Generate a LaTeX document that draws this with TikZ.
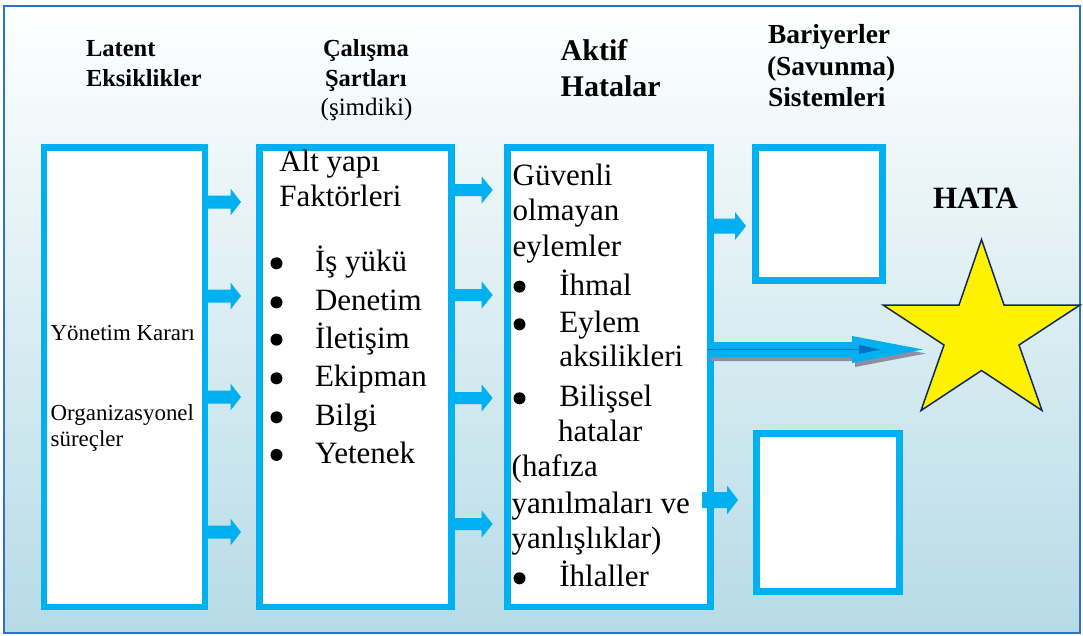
\documentclass[tikz,border=0pt]{standalone}
\usepackage{fontspec}
\setmainfont{Liberation Serif}
\usetikzlibrary{calc}

\definecolor{boxcyan}{HTML}{00B0F0}
\definecolor{frameblue}{HTML}{2E74C4}
\definecolor{bgbottom}{HTML}{B6DBE6}
\definecolor{bgmid}{HTML}{DCEDF3}
\definecolor{starline}{HTML}{13295C}
\definecolor{shadowgray}{HTML}{8C8EA6}
\definecolor{innerblue}{HTML}{0070C0}

% horizontal block arrow: #1 start, #2 tip, #3 shaft half-height,
% #4 head half-height, #5 head length, #6 fill style
\newcommand\blockarrow[6]{%
  \fill[#6] let \p1=(#1), \p2=(#2) in
    (\x1,\y1+#3pt) -- (\x2-#5pt,\y1+#3pt) -- (\x2-#5pt,\y1+#4pt) -- (\x2,\y1)
    -- (\x2-#5pt,\y1-#4pt) -- (\x2-#5pt,\y1-#3pt) -- (\x1,\y1-#3pt) -- cycle;}

\begin{document}
\begin{tikzpicture}[x=1pt,y=-1pt,
  box/.style={rectangle, draw=boxcyan, line width=6.5pt, fill=white,
              inner sep=0pt, outer sep=0pt},
  txt/.style={anchor=base west, inner sep=0pt, outer sep=0pt},
  headA/.style={txt, font=\fontsize{24.5}{29}\selectfont\bfseries},
  headR/.style={txt, font=\fontsize{25}{29}\selectfont},
  headB/.style={txt, font=\fontsize{30}{35}\selectfont\bfseries},
  headC/.style={txt, font=\fontsize{27.5}{32}\selectfont\bfseries},
  headD/.style={txt, font=\fontsize{31}{36}\selectfont\bfseries},
  body/.style={txt, font=\fontsize{31}{36}\selectfont},
  small/.style={txt, font=\fontsize{22.9}{26}\selectfont},
  dot/.style={circle, fill=black, inner sep=0pt, minimum size=12pt}]

\useasboundingbox (0,0) rectangle (1083,635);

% background panel
\shade[top color=white, middle color=bgmid, bottom color=bgbottom]
  (4,5.5) rectangle (1079.5,633);
\draw[frameblue, line width=2pt] (4,5.5) rectangle (1079.5,633);

% column boxes
\node[box, minimum width=161pt, minimum height=459.5pt] (b1) at (124.5,377.25) {};
\node[box, minimum width=192pt, minimum height=459.5pt] (b2) at (355.5,377.25) {};
\node[box, minimum width=203pt, minimum height=459.5pt] (b3) at (609,377.25) {};
\node[box, minimum width=127pt, minimum height=133pt] (b4) at (819,214) {};
\node[box, minimum width=143pt, minimum height=158pt] (b5) at (828,512.5) {};

% block arrows between the columns
\foreach \yy in {202,296,397,532}
  \blockarrow{b1.east |- 0,\yy}{$(b2.west |- 0,\yy)+(-18.5,0)$}{6.5}{13.5}{10.5}{boxcyan};
\foreach \yy in {190,295,398,524}
  \blockarrow{b2.east |- 0,\yy}{$(b3.west |- 0,\yy)+(-14.8,0)$}{6}{13.5}{11}{boxcyan};
\blockarrow{b3.east |- 0,226}{$(b4.west |- 0,226)+(-9.5,0)$}{7.5}{14}{11}{boxcyan};
\blockarrow{$(b3.east |- 0,500)+(-8.5,0)$}{$(b5.west |- 0,500)+(-18.5,0)$}{8}{14.5}{11}{boxcyan};

% star marking the error
\fill[yellow, draw=starline, line width=1.5pt]
  (981.5,239.5) -- (1004,305) -- (1080,305) -- (1019,345) -- (1042,410.5)
  -- (981.5,370.5) -- (921,410.5) -- (944,345) -- (883,305) -- (959,305) -- cycle;
\coordinate (hit) at (923,349.5);

% long arrow into the star, with its shadow and inner line
\blockarrow{$(b3.east |- 0,349.5)+(0,4)$}{$(hit)+(3,4)$}{7.5}{13.5}{71}{shadowgray};
\blockarrow{$(b3.east |- 0,349.5)+(-2.5,0)$}{hit}{7.5}{13.5}{71}{boxcyan};
\draw[innerblue, line width=1.2pt] ($(b3.east |- 0,349.5)+(-2.5,0)$) -- ($(hit)+(-62,0)$);
\fill[innerblue] ($(hit)+(-64,-4.5)$) -- ($(hit)+(-43,0)$) -- ($(hit)+(-64,4.5)$) -- cycle;

% column headings
\node[headA] (h1a) at (86,56) {Latent};
\node[headA] (h1b) at (86,86) {Eksiklikler};
\node[headA] (h2a) at (323,56) {Çalışma};
\node[headA] (h2b) at (325,86) {Şartları};
\node[headR] (h2c) at (320.7,115) {(şimdiki)};
\node[headB] (h3a) at (560.7,60.7) {Aktif};
\node[headB] (h3b) at (560.7,96) {Hatalar};
\node[headC] (h4a) at (768,43.3) {Bariyerler};
\node[headC] (h4b) at (767,75.5) {(Savunma)};
\node[headC] (h4c) at (768,106.7) {Sistemleri};
\node[headD] (hata) at (933,208) {HATA};

% first column
\node[small] (t1a) at (50.7,340.7) {Yönetim Kararı};
\node[small] (t1b) at (50.7,420.7) {Organizasyonel};
\node[small] (t1c) at (50.7,446.7) {süreçler};

% second column
\node[body] (t2a) at (279.3,171.7) {Alt yapı};
\node[body] (t2b) at (279.3,206.7) {Faktörleri};
\node[dot] (d21) at (276.5,263.3) {};
\node[body] (t21) at (315,271.7) {İş yükü};
\node[dot] (d22) at (276.5,302.3) {};
\node[body] (t22) at (315,310.7) {Denetim};
\node[dot] (d23) at (276.5,339.6) {};
\node[body] (t23) at (315,348) {İletişim};
\node[dot] (d24) at (276.5,378.3) {};
\node[body] (t24) at (315,386.7) {Ekipman};
\node[dot] (d25) at (276.5,417.3) {};
\node[body] (t25) at (315,425.7) {Bilgi};
\node[dot] (d26) at (276.5,454.9) {};
\node[body] (t26) at (315,463.3) {Yetenek};

% third column
\node[body] (t3a) at (512.7,185) {Güvenli};
\node[body] (t3b) at (512.7,220) {olmayan};
\node[body] (t3c) at (512.7,256) {eylemler};
\node[dot] (d31) at (519.5,286.6) {};
\node[body] (t31) at (559.3,295) {İhmal};
\node[dot] (d32) at (519.5,324.3) {};
\node[body] (t32) at (559.3,332.7) {Eylem};
\node[body] (t33) at (559.3,366.7) {aksilikleri};
\node[dot] (d33) at (519.5,398.3) {};
\node[body] (t34) at (559.3,406.7) {Bilişsel};
\node[body] (t35) at (558,441.7) {hatalar};
\node[body] (t36) at (511.7,476.7) {(hafıza};
\node[body] (t37) at (511.7,513) {yanılmaları ve};
\node[body] (t38) at (511.7,548) {yanlışlıklar)};
\node[dot] (d34) at (519.5,578.3) {};
\node[body] (t39) at (559.3,586.7) {İhlaller};
\end{tikzpicture}
\end{document}
